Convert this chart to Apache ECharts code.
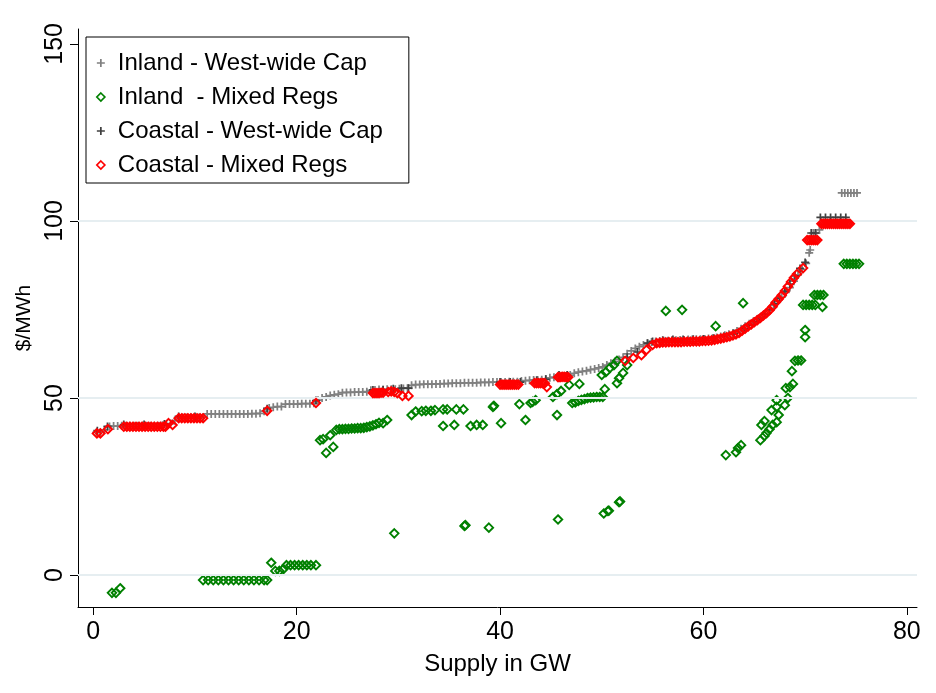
<!DOCTYPE html>
<html><head><meta charset="utf-8">
<script src="https://cdn.jsdelivr.net/npm/echarts@6/dist/echarts.min.js"></script>
<style>html,body{margin:0;padding:0;background:#fff}#c{width:936px;height:693px}</style>
</head><body><div id="c"></div>
<script>
// ---- data ----
const seriesNames = ['Inland - West-wide Cap', 'Inland  - Mixed Regs', 'Coastal - West-wide Cap', 'Coastal - Mixed Regs'];
const xTicks = [0, 20, 40, 60, 80];
const yTicks = [0, 50, 100, 150];
const gridValues = [0, 50, 100];

const inlandCapPts = [[0.3,40.3],[0.7,40.3],[1.1,41.0],[1.6,42.0],[2.0,42.1],[2.4,42.1],[2.8,42.2],[3.2,42.2],[3.6,42.2],[4.0,42.2],[4.4,42.2],[4.8,42.2],[5.2,42.2],[5.6,42.2],[6.0,42.2],[6.4,42.2],[6.8,42.3],[7.2,42.6],[7.6,42.8],[8.0,43.6],[8.4,44.4],[8.8,44.5],[9.2,44.5],[9.6,44.5],[10.0,44.5],[10.4,44.5],[10.8,44.6],[11.2,45.5],[11.6,45.5],[12.0,45.5],[12.4,45.5],[12.8,45.5],[13.2,45.5],[13.6,45.5],[14.0,45.5],[14.4,45.5],[14.8,45.5],[15.2,45.5],[15.6,45.6],[16.0,45.6],[16.4,45.7],[16.8,46.3],[17.3,47.2],[17.7,47.4],[18.1,47.6],[18.5,47.6],[18.9,48.3],[19.3,48.3],[19.7,48.3],[20.1,48.3],[20.5,48.4],[20.9,48.4],[21.3,48.4],[21.7,48.5],[22.1,49.4],[22.5,50.0],[22.9,50.3],[23.3,50.7],[23.7,50.9],[24.1,51.1],[24.5,51.5],[24.9,51.6],[25.3,51.6],[25.7,51.7],[26.1,51.7],[26.5,51.7],[26.9,51.8],[27.3,52.2],[27.7,52.3],[28.1,52.4],[28.5,52.4],[28.9,52.5],[29.3,52.5],[29.7,52.5],[30.1,52.6],[30.5,52.7],[30.9,52.8],[31.3,53.6],[31.7,53.8],[32.1,53.8],[32.5,53.9],[32.9,53.9],[33.3,53.9],[33.7,54.0],[34.1,54.0],[34.5,54.1],[34.9,54.1],[35.3,54.2],[35.7,54.2],[36.1,54.2],[36.5,54.3],[36.9,54.3],[37.3,54.3],[37.7,54.3],[38.1,54.4],[38.5,54.4],[38.9,54.4],[39.3,54.5],[39.7,54.5],[40.1,54.5],[40.5,54.5],[40.9,54.6],[41.3,54.6],[41.7,54.6],[42.1,54.8],[42.5,54.9],[42.9,55.0],[43.3,55.1],[43.7,55.1],[44.1,55.2],[44.5,55.4],[44.9,55.7],[45.3,55.9],[45.7,56.0],[46.1,56.1],[46.5,56.2],[46.9,56.5],[47.3,57.0],[47.7,57.3],[48.1,57.5],[48.5,57.7],[48.9,58.0],[49.3,58.2],[49.7,58.5],[50.1,58.8],[50.5,59.3],[50.9,59.8],[51.3,60.3],[51.7,60.9],[52.1,61.5],[52.5,62.5],[52.9,63.3],[53.3,64.0],[53.7,64.5],[54.1,65.0],[54.5,65.5],[54.9,65.8],[55.3,66.0],[55.7,66.1],[56.1,66.2],[56.5,66.2],[56.9,66.3],[57.3,66.3],[57.7,66.4],[58.1,66.4],[58.5,66.5],[58.9,66.5],[59.3,66.6],[59.7,66.6],[60.1,66.7],[60.5,66.8],[60.9,66.9],[61.3,67.1],[61.7,67.4],[62.1,67.7],[62.5,68.0],[62.9,68.4],[63.3,68.9],[63.7,69.6],[64.1,70.3],[64.5,71.0],[64.9,71.6],[65.3,72.3],[65.7,73.0],[66.1,73.8],[66.5,74.8],[66.9,76.2],[67.3,77.3],[67.7,78.5],[68.1,79.8],[68.5,81.2],[68.9,83.0],[69.3,84.8],[69.7,86.3],[70.1,88.0],[70.4,91.0],[70.5,91.8],[70.8,96.6],[71.1,96.6],[71.4,97.5],[71.7,99.2],[72.0,99.2],[72.3,99.2],[73.6,107.9],[73.9,107.9],[74.2,107.9],[74.5,107.9],[74.8,107.9],[75.1,107.9]];

const inlandMixedPts = [[1.84,-5.0],[2.23,-5.0],[2.65,-3.7],[10.8,-1.4],[11.3,-1.4],[11.8,-1.4],[12.3,-1.4],[12.8,-1.4],[13.3,-1.4],[13.8,-1.4],[14.3,-1.4],[14.8,-1.4],[15.3,-1.4],[15.8,-1.4],[16.3,-1.4],[16.8,-1.4],[17.1,-1.4],[17.5,3.5],[17.9,1.2],[18.3,1.2],[18.7,1.7],[19.0,2.8],[19.4,2.8],[19.8,2.8],[20.2,2.8],[20.6,2.8],[21.0,2.8],[21.4,2.8],[21.9,2.8],[22.3,38.1],[22.6,38.4],[23.3,39.5],[22.9,34.5],[23.6,36.2],[23.9,41.0],[24.2,41.2],[24.5,41.2],[24.8,41.3],[25.1,41.3],[25.4,41.4],[25.7,41.4],[26.0,41.5],[26.3,41.5],[26.6,41.6],[26.9,41.8],[27.2,42.0],[27.5,42.3],[27.8,42.6],[28.1,43.0],[28.5,42.9],[28.9,43.8],[29.6,11.8],[31.3,45.2],[31.7,46.2],[32.3,46.3],[32.7,46.4],[33.2,46.4],[33.6,46.6],[34.4,46.8],[34.8,46.8],[35.7,46.8],[36.4,46.8],[34.4,42.1],[35.5,42.4],[36.5,13.9],[36.6,14.1],[37.1,42.1],[37.7,42.4],[38.3,42.4],[38.9,13.4],[39.3,47.5],[39.4,47.8],[40.1,42.9],[41.9,48.3],[42.5,43.8],[43.0,48.6],[43.2,48.9],[43.5,49.4],[45.2,50.3],[45.6,51.1],[46.0,52.0],[45.6,45.2],[45.7,15.7],[46.8,53.7],[47.8,54.0],[47.1,48.6],[47.4,48.8],[47.7,49.2],[48.0,49.5],[48.3,49.7],[48.6,50.0],[48.9,50.1],[49.2,50.2],[49.5,50.3],[49.8,50.3],[50.1,50.3],[50.2,17.4],[50.6,18.1],[50.7,18.2],[51.7,20.6],[51.8,20.8],[50.3,52.5],[50.0,56.5],[50.4,57.3],[50.8,58.5],[51.2,59.3],[51.5,60.5],[51.5,54.2],[51.7,55.6],[52.1,57.1],[52.5,59.3],[56.3,74.6],[57.9,74.9],[61.2,70.3],[63.9,76.8],[62.2,33.9],[63.2,34.7],[63.4,35.9],[63.7,36.7],[65.6,38.1],[66.0,39.3],[66.2,40.1],[66.5,41.2],[66.8,42.4],[67.2,43.2],[67.4,45.2],[65.7,42.4],[66.0,43.5],[66.7,46.6],[67.2,47.5],[67.2,49.4],[68.0,48.0],[68.3,50.0],[68.1,52.8],[68.5,53.1],[68.8,54.0],[68.7,57.6],[69.0,60.5],[69.3,60.6],[69.6,60.6],[70.0,67.2],[70.0,69.2],[69.8,76.3],[70.1,76.3],[70.4,76.3],[70.7,76.3],[71.0,76.3],[70.9,79.1],[71.2,79.1],[71.5,79.1],[71.8,79.1],[71.7,75.7],[73.8,87.9],[74.1,87.9],[74.4,87.9],[74.7,87.9],[75.0,87.9],[75.3,87.9]];

const coastalCapPts = [[0.4,40.8],[1.4,42.0],[3.0,42.5],[5.0,42.5],[7.0,42.7],[8.4,44.8],[10.0,44.8],[17.1,47.0],[21.9,49.3],[27.5,52.3],[28.5,52.3],[29.5,52.6],[30.3,52.8],[31.0,52.8],[40.0,54.5],[41.0,54.5],[42.0,54.5],[43.6,55.0],[44.5,55.3],[45.8,56.5],[46.6,56.5],[52.5,61.5],[53.5,63.0],[54.5,65.5],[55.0,66.0],[56.0,66.3],[57.0,66.5],[58.0,66.5],[59.0,66.6],[60.0,66.7],[61.0,66.9],[62.0,67.4],[63.0,68.2],[64.0,69.7],[64.5,70.6],[65.0,71.6],[65.5,72.6],[66.0,73.6],[66.5,75.0],[67.0,76.6],[67.5,78.2],[68.0,80.2],[68.5,82.2],[69.0,84.5],[69.5,86.6],[70.0,88.3],[70.6,96.6],[71.0,96.6],[71.5,101.0],[72.0,101.0],[72.5,101.0],[73.0,101.0],[73.5,101.0],[74.0,101.0]];

const coastalMixedPts = [[0.36,40.0],[0.7,40.0],[1.44,41.2],[3.0,41.9],[3.3,41.9],[3.6,41.9],[3.9,41.9],[4.2,41.9],[4.5,41.9],[4.8,41.9],[5.1,41.9],[5.4,41.9],[5.7,41.9],[6.0,41.9],[6.3,41.9],[6.6,41.9],[6.9,41.9],[7.1,41.9],[7.4,42.9],[7.8,42.4],[8.4,44.3],[8.7,44.3],[9.0,44.3],[9.3,44.3],[9.6,44.3],[9.9,44.3],[10.2,44.3],[10.5,44.3],[10.8,44.3],[17.1,46.4],[21.9,48.6],[27.5,51.4],[27.7,51.4],[27.9,51.4],[28.1,51.4],[28.3,51.5],[28.5,51.5],[29.0,51.7],[29.3,51.9],[29.6,51.7],[29.9,51.4],[30.4,50.6],[31.0,50.6],[40.0,53.8],[40.2,53.8],[40.4,53.8],[40.6,53.8],[40.8,53.8],[41.0,53.8],[41.2,53.8],[41.4,53.8],[41.6,53.8],[41.8,53.8],[43.4,54.2],[43.6,54.2],[43.8,54.2],[44.0,54.2],[44.2,54.2],[44.4,54.2],[44.6,53.1],[45.7,55.9],[45.9,55.9],[46.1,56.0],[46.3,56.0],[46.5,55.9],[46.7,55.9],[52.3,60.5],[53.1,61.3],[53.9,62.1],[54.4,63.6],[55.0,65.0],[55.4,65.5],[55.7,65.6],[56.0,65.7],[56.3,65.7],[56.6,65.8],[56.9,65.8],[57.2,65.8],[57.5,65.8],[57.8,65.8],[58.1,65.9],[58.4,65.9],[58.7,65.9],[59.0,66.0],[59.3,66.0],[59.6,66.0],[59.9,66.1],[60.2,66.1],[60.5,66.2],[60.8,66.3],[61.1,66.4],[61.4,66.6],[61.7,66.8],[62.0,67.0],[62.3,67.2],[62.6,67.4],[62.9,67.7],[63.2,68.0],[63.5,68.4],[63.8,69.0],[64.1,69.6],[64.4,70.2],[64.7,70.8],[65.0,71.4],[65.3,72.0],[65.6,72.6],[65.9,73.3],[66.2,74.0],[66.5,74.8],[66.8,75.8],[67.1,77.0],[67.4,78.0],[67.7,79.0],[68.0,80.2],[68.3,81.5],[68.6,82.8],[68.9,84.0],[69.2,85.0],[69.8,86.7],[70.2,94.6],[70.4,94.6],[70.6,94.6],[70.8,94.6],[71.0,94.6],[71.2,94.6],[71.6,99.2],[71.8,99.2],[72.0,99.2],[72.2,99.2],[72.4,99.2],[72.6,99.2],[72.8,99.2],[73.0,99.2],[73.2,99.2],[73.4,99.2],[73.6,99.2],[73.8,99.2],[74.0,99.2],[74.2,99.2],[74.4,99.2]];

// ---- chart ----
const FONT = 'Liberation Sans, Helvetica, Arial, sans-serif';
const PLUS = 'path://M2.9,0h1.6v2.9h2.9v1.6h-2.9v2.9h-1.6v-2.9h-2.9v-1.6h2.9z';
const chart = echarts.init(document.getElementById('c'), null, {renderer: 'canvas'});

function plusSeries(name, data, color, z) {
  return {name, type: 'scatter', data, symbol: PLUS, symbolSize: 8, z,
    itemStyle: {color, opacity: 1}, emphasis: {disabled: true}};
}
function diamondSeries(name, data, color, z) {
  return {name, type: 'scatter', data, symbol: 'diamond', symbolSize: 8.5, z,
    itemStyle: {color: 'rgba(255,255,255,0)', borderColor: color, borderWidth: 1.9, opacity: 1},
    emphasis: {disabled: true}};
}

chart.setOption({
  animation: false,
  backgroundColor: '#fff',
  grid: {left: 78, right: 19, top: 29, bottom: 86, containLabel: false},
  legend: {
    orient: 'vertical', left: 86, top: 37,
    borderColor: '#000', borderWidth: 1, borderRadius: 0,
    padding: [14, 26, 6, 10], itemGap: 10,
    itemWidth: 8, itemHeight: 8,
    textStyle: {fontFamily: FONT, fontSize: 24, color: '#000', lineHeight: 24, padding: [0, 0, 0, 8]},
    data: [
      {name: seriesNames[0], icon: PLUS, itemStyle: {color: '#808080'}},
      {name: seriesNames[1], icon: 'diamond', itemStyle: {color: 'rgba(255,255,255,0)', borderColor: '#008000', borderWidth: 1.7}},
      {name: seriesNames[2], icon: PLUS, itemStyle: {color: '#404040'}},
      {name: seriesNames[3], icon: 'diamond', itemStyle: {color: 'rgba(255,255,255,0)', borderColor: '#ff0000', borderWidth: 1.7}}
    ],
    selectedMode: false
  },
  xAxis: {
    type: 'value', min: -1.5, max: 81,
    name: 'Supply in GW', nameLocation: 'middle', nameGap: 45,
    nameTextStyle: {fontFamily: FONT, fontSize: 24, color: '#000'},
    axisLine: {show: true, onZero: false, lineStyle: {color: '#000', width: 1}},
    axisTick: {show: true, length: 8, customValues: xTicks, lineStyle: {color: '#000'}},
    axisLabel: {customValues: xTicks, margin: 13, fontFamily: FONT, fontSize: 25, color: '#000'},
    splitLine: {show: false}
  },
  yAxis: {
    type: 'value', min: -9, max: 154.2,
    name: '$/MWh', nameLocation: 'middle', nameGap: 36, nameRotate: 90,
    nameTextStyle: {fontFamily: FONT, fontSize: 21, color: '#000'},
    axisLine: {show: true, onZero: false, lineStyle: {color: '#000', width: 1}},
    axisTick: {show: true, length: 8, customValues: yTicks, lineStyle: {color: '#000'}},
    axisLabel: {customValues: yTicks, rotate: 90, margin: 10, fontFamily: FONT, fontSize: 25, color: '#000'},
    splitLine: {show: false}
  },
  series: [
    {name: 'grid', type: 'scatter', data: [], z: 0, silent: true,
      markLine: {silent: true, symbol: 'none', animation: false,
        label: {show: false},
        lineStyle: {color: '#e6eef1', width: 2, type: 'solid'},
        data: gridValues.map(v => ({yAxis: v}))}},
    plusSeries(seriesNames[0], inlandCapPts, '#808080', 2),
    diamondSeries(seriesNames[1], inlandMixedPts, '#008000', 3),
    plusSeries(seriesNames[2], coastalCapPts, '#404040', 4),
    diamondSeries(seriesNames[3], coastalMixedPts, '#ff0000', 5)
  ]
});
</script>
</body></html>
